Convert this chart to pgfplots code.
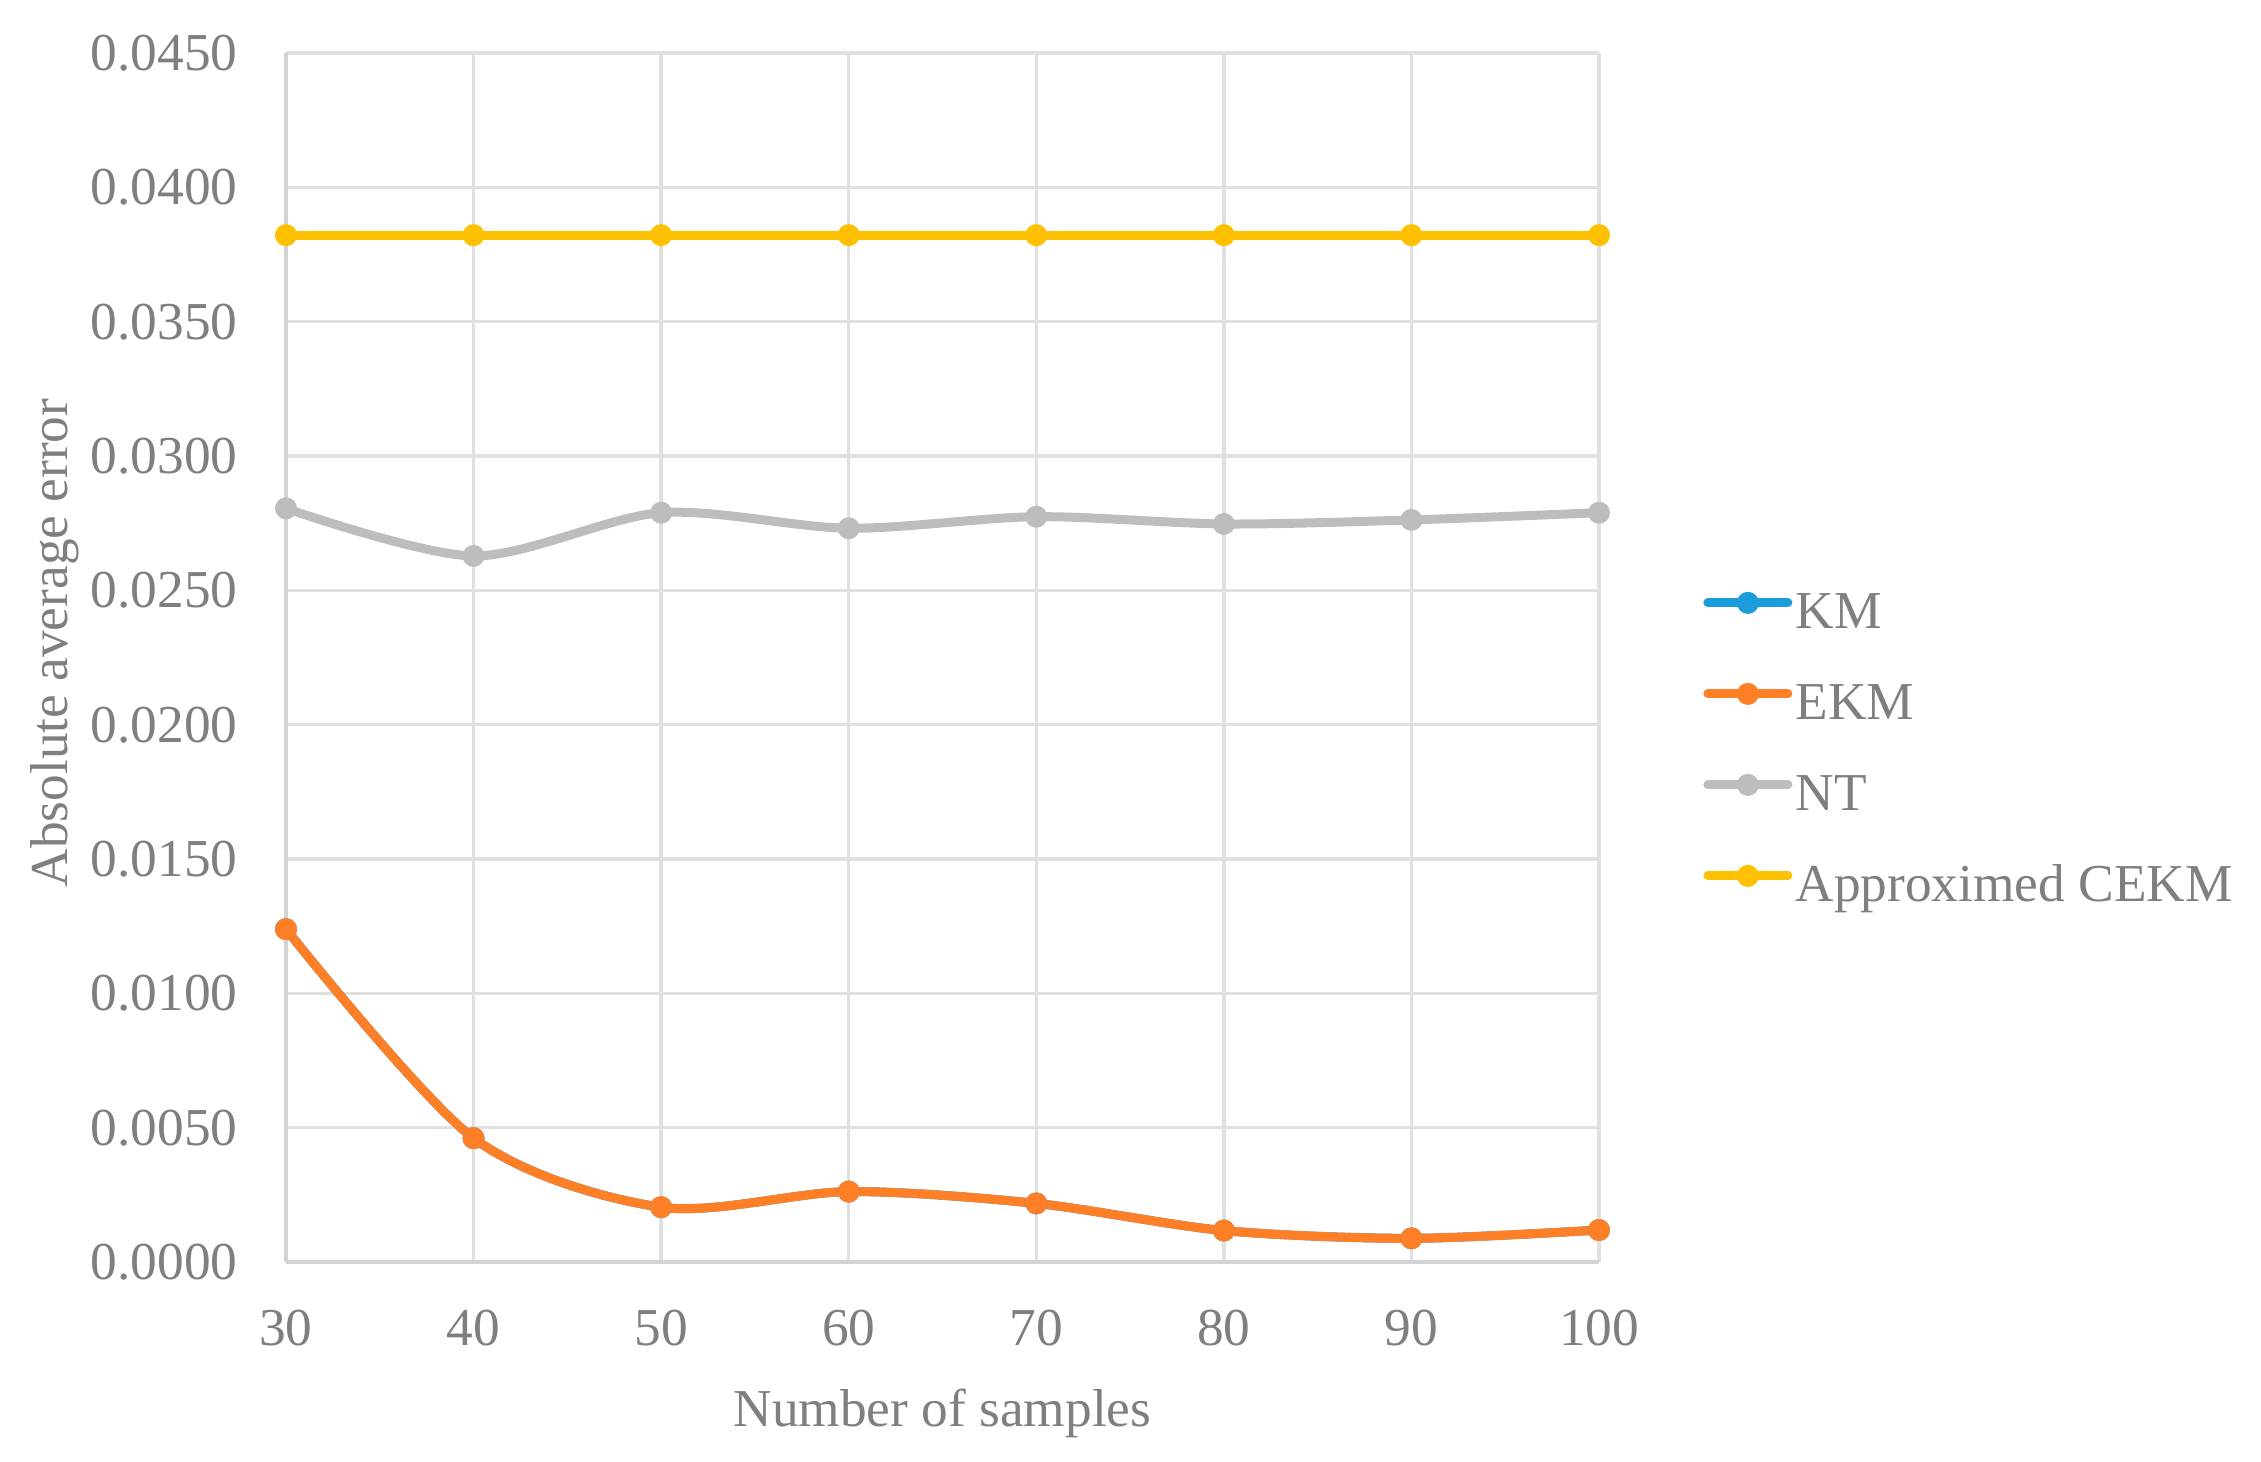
\documentclass[border=0pt]{standalone}
\usepackage{fontspec}
\setmainfont{Liberation Serif}
\usepackage{pgfplots}
\pgfplotsset{compat=1.18}
\definecolor{kmblue}{HTML}{1B9DDB}
\definecolor{ekmorange}{HTML}{FF7F27}
\definecolor{ntgray}{HTML}{BDBDBD}
\definecolor{cekmyellow}{HTML}{FFC000}
\definecolor{txtgray}{HTML}{7F7F7F}
\definecolor{gridgray}{HTML}{E0E0E0}
\definecolor{axgray}{HTML}{D2D2D2}
\begin{document}
\fontsize{16}{19}\selectfont
\begin{tikzpicture}
\useasboundingbox (-85.8pt,-60pt) rectangle (592.5pt,378.6pt);
\begin{axis}[
  at={(0,0)}, anchor=south west,
  scale only axis, width=393.9pt, height=362.7pt,
  xmin=30, xmax=100, ymin=0, ymax=0.045,
  xtick={30,40,50,60,70,80,90,100},
  ytick={0,0.005,0.010,0.015,0.020,0.025,0.030,0.035,0.040,0.045},
  scaled y ticks=false,
  grid=major,
  major grid style={gridgray, line width=1pt},
  axis x line*=bottom, axis y line*=left,
  axis line style={axgray, line width=1.2pt, -},
  major tick length=0pt,
  tick style={draw=none},
  clip=false,
  /pgf/number format/assume math mode=true,
  ticklabel style={font=\fontsize{16}{19}\selectfont, text=txtgray},
  yticklabel style={/pgf/number format/.cd, fixed, fixed zerofill, precision=4, /tikz/.cd, xshift=-9pt},
  xticklabel style={yshift=-9pt},
  label style={font=\fontsize{16}{19}\selectfont, text=txtgray},
  xlabel={Number of samples},
  ylabel={Absolute average error},
  xlabel style={at={(axis description cs:0.5,-0.1249)}, anchor=center},
  ylabel style={at={(axis description cs:-0.176,0.512)}, anchor=center},
  legend cell align=left,
  legend style={draw=none, fill=none, inner sep=0pt,
    at={(axis description cs:1.079,0.4218)}, anchor=west,
    row sep=10.8pt, column sep=0pt,
    nodes={inner sep=1pt, text height=11pt, text depth=3.5pt, text=txtgray},
    font=\fontsize{16}{19}\selectfont},
  legend image code/.code={
    \draw[#1, mark repeat=2, mark phase=2] plot coordinates {(0pt,3.8pt) (12pt,3.8pt) (24pt,3.8pt)};
  },
  every axis plot/.append style={line width=2.7pt, line cap=round, mark=*, mark size=3.1pt, smooth},
]
\addplot[color=kmblue, mark options={fill=kmblue, draw=kmblue, line width=0.4pt}] coordinates {
  (30,0.01239) (40,0.00461) (50,0.00204) (60,0.00262) (70,0.00218) (80,0.00117) (90,0.00088) (100,0.00119)};
\addlegendentry{KM}
\addplot[color=ekmorange, mark options={fill=ekmorange, draw=ekmorange, line width=0.4pt}] coordinates {
  (30,0.01239) (40,0.00461) (50,0.00204) (60,0.00262) (70,0.00218) (80,0.00117) (90,0.00088) (100,0.00119)};
\addlegendentry{EKM}
\addplot[color=ntgray, mark options={fill=ntgray, draw=ntgray, line width=0.4pt}] coordinates {
  (30,0.02805) (40,0.02628) (50,0.02789) (60,0.02731) (70,0.02774) (80,0.02747) (90,0.02762) (100,0.02789)};
\addlegendentry{NT}
\addplot[color=cekmyellow, mark options={fill=cekmyellow, draw=cekmyellow, line width=0.4pt}] coordinates {
  (30,0.03822) (40,0.03822) (50,0.03822) (60,0.03822) (70,0.03822) (80,0.03822) (90,0.03822) (100,0.03822)};
\addlegendentry{Approximed CEKM}
\end{axis}
\end{tikzpicture}
\end{document}
